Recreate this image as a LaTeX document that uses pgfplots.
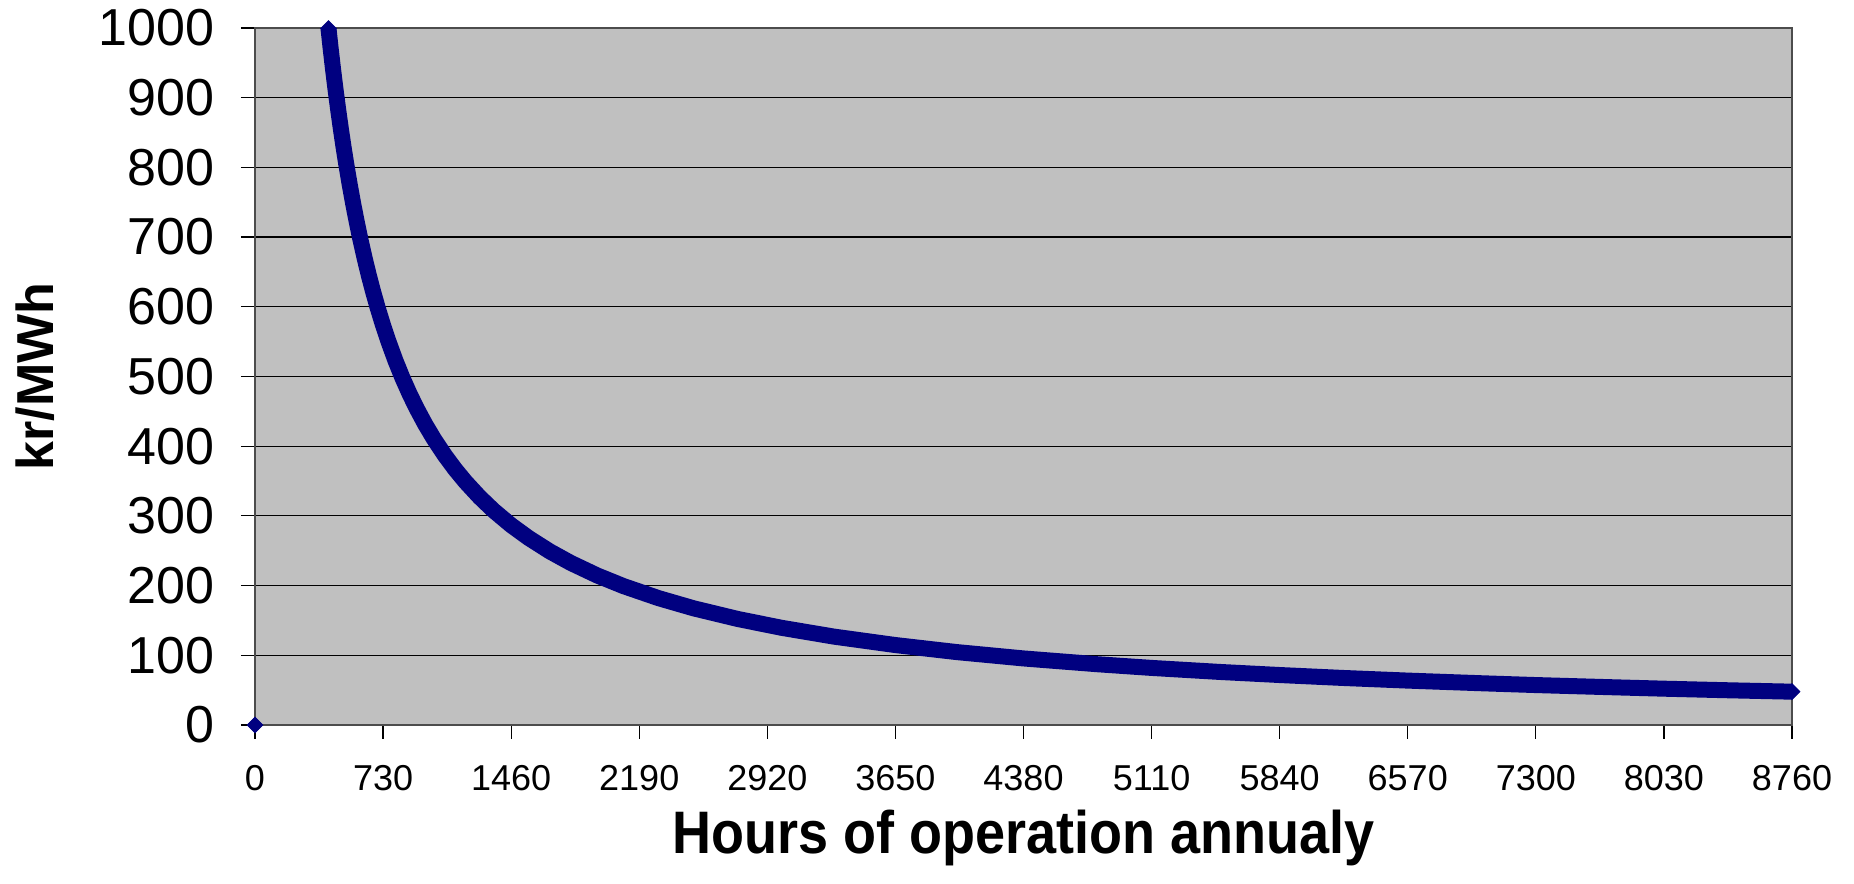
\documentclass[border=0pt]{standalone}
\usepackage{pgfplots}
\pgfplotsset{compat=1.18}
\usepackage{fontspec}
\setmainfont{Liberation Sans}
\definecolor{navy}{HTML}{000080}
\definecolor{plotbg}{HTML}{C0C0C0}
\begin{document}
\begin{tikzpicture}
\path[use as bounding box] (0,0) rectangle (927bp,442bp);
\begin{axis}[
  at={(127.5bp,79.5bp)}, anchor=south west,
  scale only axis, width=768.5bp, height=348.5bp,
  xmin=0, xmax=8760, ymin=0, ymax=1000,
  xtick={0,730,1460,2190,2920,3650,4380,5110,5840,6570,7300,8030,8760},
  ytick={0,100,...,1000},
  xtick pos=left, ytick pos=left,
  tick align=outside, major tick length=7bp,
  tick style={black, line width=0.6bp},
  ymajorgrids, grid style={black, line width=0.6bp},
  axis background/.style={fill=plotbg},
  axis line style={draw=black!70, line width=1.2bp},
  clip=false,
  /pgf/number format/assume math mode=true,
  /pgf/number format/1000 sep={},
  xticklabel style={font=\fontsize{18bp}{20bp}\selectfont, inner sep=0pt, anchor=north, yshift=-13bp},
  yticklabel style={font=\fontsize{26bp}{28bp}\selectfont, inner sep=0pt, anchor=east, xshift=-13bp},
  xlabel={\scalebox{0.9}[1]{Hours of operation annualy}},
  ylabel={kr/MWh},
  xlabel style={font=\fontsize{30bp}{32bp}\selectfont\bfseries, at={(axis description cs:0.5,-0.18508)}, anchor=base},
  ylabel style={font=\fontsize{26bp}{28bp}\selectfont\bfseries, at={(axis description cs:-0.14313,0.5)}, anchor=center, rotate=0},
]
\addplot[navy, line width=8bp, mark=none] coordinates {
(419,999) (430,973.3) (445,940.4) (460,909.8) (475,881.1) (490,854.1) (505,828.7)
(520,804.8) (540,775.0) (560,747.3) (580,721.6) (600,697.5) (625,669.6) (650,643.8)
(675,620.0) (700,597.9) (730,573.3) (760,550.7) (800,523.1) (840,498.2) (880,475.6)
(920,454.9) (970,431.4) (1020,410.3) (1080,387.5) (1140,367.1) (1200,348.8) (1280,327.0)
(1360,307.7) (1460,286.6) (1560,268.3) (1680,249.1) (1800,232.5) (1950,214.6) (2100,199.3)
(2300,182.0) (2500,167.4) (2750,152.2) (3000,139.5) (3300,126.8) (3650,114.7) (4000,104.6)
(4380,95.5) (4800,87.2) (5110,81.9) (5500,76.1) (5840,71.7) (6200,67.5) (6570,63.7)
(7000,59.8) (7300,57.3) (7700,54.4) (8030,52.1) (8400,49.8) (8760,47.8)
};
\addplot[only marks, mark=square*, mark size=2.8bp, mark options={navy, rotate=45}] coordinates {
(0,0) (419,999) (8760,47.8)
};
\end{axis}
\end{tikzpicture}
\end{document}
